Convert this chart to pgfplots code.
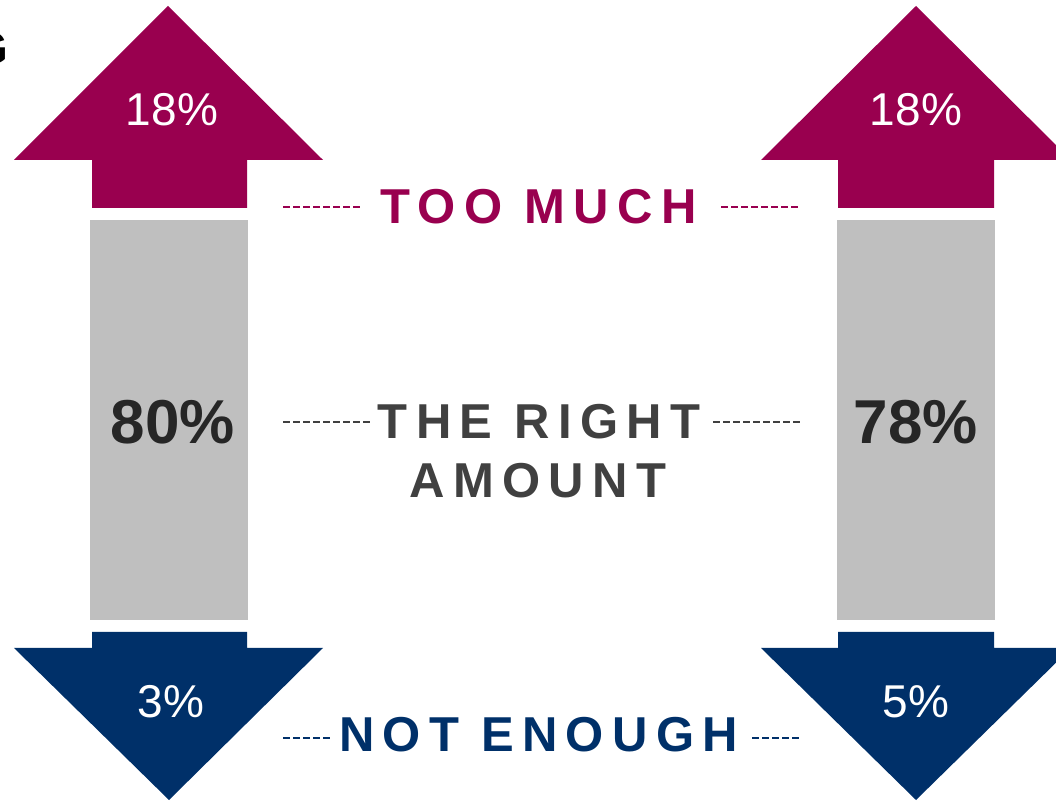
\documentclass[border=0pt]{standalone}
\usepackage{pgfplots}
\pgfplotsset{compat=1.18}
\usepackage{fontspec}
\setmainfont{Liberation Sans}
\newfontfamily\spaced[LetterSpace=17]{Liberation Sans}
\definecolor{mag}{HTML}{99004F}
\definecolor{navy}{HTML}{003069}
\definecolor{barg}{HTML}{BFBFBF}
\definecolor{txtg}{HTML}{404040}
\definecolor{dark}{HTML}{262626}
\begin{document}
\begin{tikzpicture}
\begin{axis}[
  scale only axis, width=1056pt, height=800pt,
  xmin=0, xmax=1056, ymin=0, ymax=800,
  hide axis, clip=true,
]
% up arrows (too much)
\addplot[fill=mag, draw=none] coordinates {(168,794)(323,640)(247,640)(247,592)(92,592)(92,640)(14,640)} -- cycle;
\addplot[fill=mag, draw=none] coordinates {(916,794)(1071,640)(994,640)(994,592)(838,592)(838,640)(761,640)} -- cycle;
% grey bars (right amount)
\addplot[fill=barg, draw=none] coordinates {(90,180)(248,180)(248,580)(90,580)} -- cycle;
\addplot[fill=barg, draw=none] coordinates {(837,180)(995,180)(995,580)(837,580)} -- cycle;
% down arrows (not enough)
\addplot[fill=navy, draw=none] coordinates {(92,168)(247,168)(247,152)(323,152)(169,0)(14,152)(92,152)} -- cycle;
\addplot[fill=navy, draw=none] coordinates {(838,168)(994,168)(994,152)(1071,152)(916,0)(761,152)(838,152)} -- cycle;
% dashed leader lines
\addplot[mag, line width=2.5pt, dash pattern=on 7pt off 3pt] coordinates {(283,593)(362,593)};
\addplot[mag, line width=2.5pt, dash pattern=on 7pt off 3pt] coordinates {(721,593)(800,593)};
\addplot[txtg, line width=2.5pt, dash pattern=on 7pt off 3pt] coordinates {(283,378)(370,378)};
\addplot[txtg, line width=2.5pt, dash pattern=on 7pt off 3pt] coordinates {(713,378)(800,378)};
\addplot[navy, line width=2.5pt, dash pattern=on 7pt off 3pt] coordinates {(283,62)(330,62)};
\addplot[navy, line width=2.5pt, dash pattern=on 7pt off 3pt] coordinates {(752,62)(800,62)};
% values
\addplot[draw=none, mark=none, nodes near coords, point meta=explicit symbolic,
  nodes near coords style={anchor=center, inner sep=0pt, text=white, font=\fontsize{46}{50}\selectfont}]
  coordinates {(172,690)[18\%] (916,690)[18\%] (171,98)[3\%] (916,98)[5\%]};
\addplot[draw=none, mark=none, nodes near coords, point meta=explicit symbolic,
  nodes near coords style={anchor=center, inner sep=0pt, text=dark, font=\fontsize{62}{70}\selectfont\bfseries}]
  coordinates {(173,378)[80\%] (916,378)[78\%]};
\end{axis}
% category labels
\begin{scope}[x=1pt,y=1pt]
\node[anchor=center, inner sep=0pt, text=mag, font=\fontsize{49}{50}\selectfont\bfseries\spaced] at (538.5,593.5) {TOO MUCH};
\node[anchor=center, inner sep=0pt, text=txtg, font=\fontsize{49}{50}\selectfont\bfseries\spaced] at (539,378) {THE RIGHT};
\node[anchor=center, inner sep=0pt, text=txtg, font=\fontsize{49}{50}\selectfont\bfseries\spaced] at (538,319) {AMOUNT};
\node[anchor=center, inner sep=0pt, text=navy, font=\fontsize{49}{50}\selectfont\bfseries\spaced] at (538.5,65.5) {NOT ENOUGH};
\node[anchor=east, inner sep=0pt, text=black, font=\fontsize{46}{50}\selectfont\bfseries] at (8,751) {G};
\end{scope}
\pgfresetboundingbox
\path[use as bounding box] (0,0) rectangle (1056pt,800pt);
\end{tikzpicture}
\end{document}
